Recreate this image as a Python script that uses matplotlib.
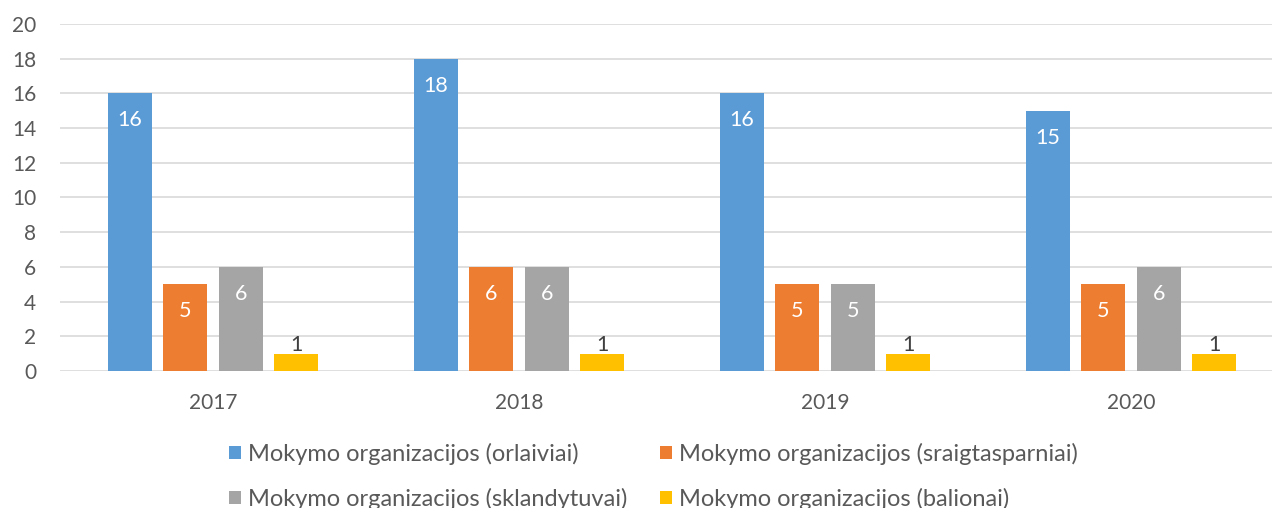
import matplotlib.pyplot as plt
import numpy as np

plt.rcParams['font.family'] = ['Lato', 'DejaVu Sans']

years = ['2017', '2018', '2019', '2020']
series_names = [
    'Mokymo organizacijos (orlaiviai)',
    'Mokymo organizacijos (sraigtasparniai)',
    'Mokymo organizacijos (sklandytuvai)',
    'Mokymo organizacijos (balionai)',
]
orlaiviai = [16, 18, 16, 15]
sraigtasparniai = [5, 6, 5, 5]
sklandytuvai = [6, 6, 5, 6]
balionai = [1, 1, 1, 1]

colors = ['#5b9bd5', '#ed7d31', '#a5a5a5', '#ffc000']
text_color = '#595959'

fig = plt.figure(figsize=(12.72, 5.08), dpi=100)
ax = fig.add_axes([60 / 1272, 137 / 508, 1224 / 1272, 347 / 508])

x = np.arange(len(years))
step = 0.181
width = 0.144
all_series = [orlaiviai, sraigtasparniai, sklandytuvai, balionai]
bars = []
for i, (vals, c) in enumerate(zip(all_series, colors)):
    b = ax.bar(x + (i - 1.5) * step, vals, width, color=c, label=series_names[i], zorder=3)
    bars.append(b)
    for xi, v in zip(x + (i - 1.5) * step, vals):
        if i == 3:
            ax.annotate(str(v), (xi, v), xytext=(0, 6), textcoords='offset points',
                        ha='center', va='center', fontsize=15.5, color='#404040', zorder=4)
        else:
            ax.annotate(str(v), (xi, v), xytext=(0, -19.5), textcoords='offset points',
                        ha='center', va='center', fontsize=15.5, color='white', zorder=4)

ax.set_xlim(-0.5, 3.5)
ax.set_ylim(0, 20)
ax.set_yticks(range(0, 21, 2))
ax.set_xticks(x)
ax.set_xticklabels(years)
ax.grid(axis='y', color='#d9d9d9', linewidth=1.2, zorder=0)
for s in ax.spines.values():
    s.set_visible(False)
ax.tick_params(axis='both', length=0, labelsize=15, colors=text_color)
ax.tick_params(axis='y', pad=17)
ax.tick_params(axis='x', pad=16)

order = [0, 2, 1, 3]
leg = ax.legend([bars[k] for k in order], [series_names[k] for k in order],
                ncol=2, loc='upper left', bbox_to_anchor=(229 / 1272, 65 / 508),
                bbox_transform=fig.transFigure, frameon=False, fontsize=17,
                handlelength=0.5, handleheight=0.5, handletextpad=0.3,
                columnspacing=1.4, labelspacing=0.95, borderaxespad=0, borderpad=0)
for t in leg.get_texts():
    t.set_color(text_color)

fig.savefig('out.png', dpi=100)
